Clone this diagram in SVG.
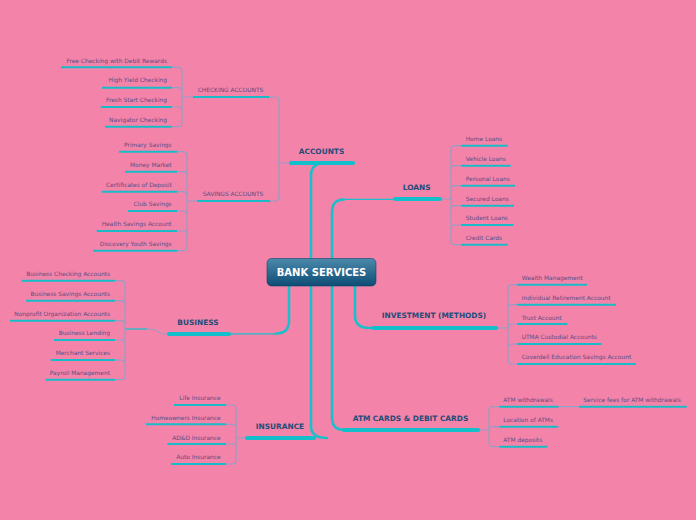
<svg xmlns="http://www.w3.org/2000/svg" width="696" height="520" viewBox="0 0 696 520">
<defs>
<linearGradient id="cg" x1="0" y1="0" x2="0" y2="1">
<stop offset="0" stop-color="#4c8aab"/>
<stop offset="1" stop-color="#0d4c75"/>
</linearGradient>
<style>
.bk{fill:none;stroke:#909fc6;stroke-width:1.2}
.mc{fill:none;stroke:#1bbfcb;stroke-width:2.6;stroke-linecap:round}
.mt{fill:none;stroke:#1bbfcb;stroke-width:1.3}
.u1{stroke:#12bfcb;stroke-width:4.2;stroke-linecap:round}
.u2{stroke:#16bdc9;stroke-width:2}
.t1{font-family:"DejaVu Sans",Verdana,sans-serif;font-weight:bold;font-size:7.4px;fill:#1e4d78;text-anchor:middle}
.t2{font-family:"DejaVu Sans",Verdana,sans-serif;font-size:5.9px;fill:#594e84}
.e{text-anchor:end}
.m{text-anchor:middle}
</style>
</defs>
<rect width="696" height="520" fill="#f483a9"/>
<g id="connectors">
<path class="bk" d="M172,67.3 H178 Q182,67.3 182,71.3 V122.7 Q182,126.7 178,126.7 H172 M172,87.7 H178 Q182,87.7 182,91.7 M172,107 H178 Q182,107 182,111 M182,97 H193"/>
<path class="bk" d="M269,97 H275 Q279,97 279,101 V197 Q279,201 275,201 H270 M279,163 H289"/>
<path class="bk" d="M177,151.7 H183 Q187,151.7 187,155.7 V246.7 Q187,250.7 183,250.7 H177 M177,171.7 H183 Q187,171.7 187,175.7 M177,191.7 H183 Q187,191.7 187,195.7 M177,211 H183 Q187,211 187,215 M177,231 H183 Q187,231 187,235 M187,201 H197"/>
<path class="bk" d="M115,280.7 H121 Q125,280.7 125,284.7 V375.7 Q125,379.7 121,379.7 H115 M115,300.7 H121 Q125,300.7 125,304.7 M115,320.7 H121 Q125,320.7 125,324.7 M115,340 H121 Q125,340 125,344 M115,360 H121 Q125,360 125,364 M147,329 Q156,329 158,331.5 Q160,334 167,334"/>
<path class="mt" d="M126,329 H147"/>
<path class="bk" d="M226,405 H232 Q236,405 236,409 V460 Q236,464 232,464 H226 M226,424.3 H232 Q236,424.3 236,428.3 M226,444 H232 Q236,444 236,448 M236,438 H245"/>
<path class="bk" d="M461,145.7 H455 Q451,145.7 451,149.7 V240.7 Q451,244.7 455,244.7 H461 M461,165.7 H455 Q451,165.7 451,169.7 M461,185.7 H455 Q451,185.7 451,189.7 M461,205.7 H455 Q451,205.7 451,209.7 M461,225 H455 Q451,225 451,229 M442,199 H451"/>
<path class="bk" d="M517,284.7 H512 Q508,284.7 508,288.7 V360 Q508,364 512,364 H517 M517,304.7 H512 Q508,304.7 508,308.7 M517,324 H512 Q508,324 508,328 M517,344 H512 Q508,344 508,348 M497,328 H508"/>
<path class="bk" d="M499,406.7 H493 Q489,406.7 489,410.7 V442.7 Q489,446.7 493,446.7 H499 M499,426.7 H493 Q489,426.7 489,430.7 M479,430 H489 M558,406.7 H579"/>
<path class="mc" d="M311,262 V176 Q311,163 324,163"/>
<path class="mc" d="M311,282 V426 Q311,438 327,438"/>
<path class="mc" d="M332,262 V212 Q332,199.5 344,199.5"/>
<path class="mt" d="M344,199.3 H393"/>
<path class="mc" d="M332,282 V418 Q332,430 345,430"/>
<path class="mc" d="M355,282 V316 Q355,328 370,328"/>
<path class="mc" d="M289,282 V321 Q289,333.5 276,333.5"/>
<path class="mt" d="M276,333.8 H231"/>
</g>
<g id="center">
<rect x="267" y="258.5" width="109" height="27.5" rx="4.5" fill="url(#cg)" stroke="#0b4468" stroke-width="0.6"/>
<text x="321.5" y="276" font-family="DejaVu Sans, Verdana, sans-serif" font-weight="bold" font-size="10px" fill="#ffffff" text-anchor="middle">BANK SERVICES</text>
</g>
<g id="accounts">
<line class="u1" x1="291" y1="163" x2="353" y2="163"/>
<text class="t1" x="321.5" y="153.7">ACCOUNTS</text>
</g>
<g id="checking-accounts">
<line class="u2" x1="193" y1="97" x2="269" y2="97"/>
<text class="t2 m" x="230.5" y="92">CHECKING ACCOUNTS</text>
</g>
<g id="checking-children">
<line class="u2" x1="61" y1="67.3" x2="172" y2="67.3"/><text class="t2 e" x="167" y="63">Free Checking with Debit Rewards</text>
<line class="u2" x1="102" y1="87.7" x2="172" y2="87.7"/><text class="t2 e" x="167" y="82">High Yield Checking</text>
<line class="u2" x1="100.7" y1="107" x2="172" y2="107"/><text class="t2 e" x="167" y="102">Fresh Start Checking</text>
<line class="u2" x1="105" y1="126.7" x2="172" y2="126.7"/><text class="t2 e" x="167" y="122">Navigator Checking</text>
</g>
<g id="savings-accounts">
<line class="u2" x1="197" y1="201" x2="270" y2="201"/>
<text class="t2 m" x="233" y="196">SAVINGS ACCOUNTS</text>
</g>
<g id="savings-children">
<line class="u2" x1="119" y1="151.7" x2="177" y2="151.7"/><text class="t2 e" x="171.7" y="147">Primary Savings</text>
<line class="u2" x1="125" y1="171.7" x2="177" y2="171.7"/><text class="t2 e" x="171.7" y="167">Money Market</text>
<line class="u2" x1="101.7" y1="191.7" x2="177" y2="191.7"/><text class="t2 e" x="171.7" y="187">Certificates of Deposit</text>
<line class="u2" x1="128" y1="211" x2="177" y2="211"/><text class="t2 e" x="171.7" y="206">Club Savings</text>
<line class="u2" x1="96.7" y1="231" x2="177" y2="231"/><text class="t2 e" x="171.7" y="226">Health Savings Account</text>
<line class="u2" x1="93" y1="250.7" x2="177" y2="250.7"/><text class="t2 e" x="171.7" y="246">Discovery Youth Savings</text>
</g>
<g id="business">
<line class="u1" x1="169" y1="334" x2="229" y2="334"/>
<text class="t1" x="198" y="324.7">BUSINESS</text>
</g>
<g id="business-children">
<line class="u2" x1="21.7" y1="280.7" x2="115" y2="280.7"/><text class="t2 e" x="110" y="276">Business Checking Accounts</text>
<line class="u2" x1="26" y1="300.7" x2="115" y2="300.7"/><text class="t2 e" x="110" y="296">Business Savings Accounts</text>
<line class="u2" x1="10" y1="320.7" x2="115" y2="320.7"/><text class="t2 e" x="110" y="316">Nonprofit Organization Accounts</text>
<line class="u2" x1="54" y1="340" x2="115" y2="340"/><text class="t2 e" x="110" y="335.3">Business Lending</text>
<line class="u2" x1="50.7" y1="360" x2="115" y2="360"/><text class="t2 e" x="110" y="355.3">Merchant Services</text>
<line class="u2" x1="45.7" y1="379.7" x2="115" y2="379.7"/><text class="t2 e" x="110" y="375">Payroll Management</text>
</g>
<g id="insurance">
<line class="u1" x1="247" y1="438" x2="314" y2="438"/>
<text class="t1" x="280" y="428.7">INSURANCE</text>
</g>
<g id="insurance-children">
<line class="u2" x1="174" y1="405" x2="226" y2="405"/><text class="t2 e" x="220.7" y="399.7">Life Insurance</text>
<line class="u2" x1="146" y1="424.3" x2="226" y2="424.3"/><text class="t2 e" x="220.7" y="419.7">Homeowners Insurance</text>
<line class="u2" x1="167.3" y1="444" x2="226" y2="444"/><text class="t2 e" x="220.7" y="439.7">AD&amp;D Insurance</text>
<line class="u2" x1="171" y1="464" x2="226" y2="464"/><text class="t2 e" x="220.7" y="459">Auto Insurance</text>
</g>
<g id="loans">
<line class="u1" x1="395" y1="199" x2="440" y2="199"/>
<text class="t1" x="416.7" y="190">LOANS</text>
</g>
<g id="loans-children">
<line class="u2" x1="461" y1="145.7" x2="507.7" y2="145.7"/><text class="t2" x="465.7" y="141">Home Loans</text>
<line class="u2" x1="461" y1="165.7" x2="510.7" y2="165.7"/><text class="t2" x="465.7" y="161">Vehicle Loans</text>
<line class="u2" x1="461" y1="185.7" x2="515" y2="185.7"/><text class="t2" x="465.7" y="181">Personal Loans</text>
<line class="u2" x1="461" y1="205.7" x2="514" y2="205.7"/><text class="t2" x="465.7" y="201">Secured Loans</text>
<line class="u2" x1="461" y1="225" x2="513.3" y2="225"/><text class="t2" x="465.7" y="220.3">Student Loans</text>
<line class="u2" x1="461" y1="244.7" x2="507.7" y2="244.7"/><text class="t2" x="465.7" y="240">Credit Cards</text>
</g>
<g id="investment">
<line class="u1" x1="373" y1="328" x2="496" y2="328"/>
<text class="t1" x="434" y="318">INVESTMENT (METHODS)</text>
</g>
<g id="investment-children">
<line class="u2" x1="517" y1="284.7" x2="587" y2="284.7"/><text class="t2" x="521.7" y="279.7">Wealth Management</text>
<line class="u2" x1="517" y1="304.7" x2="616" y2="304.7"/><text class="t2" x="521.7" y="299.7">Individual Retirement Account</text>
<line class="u2" x1="517" y1="324" x2="567.3" y2="324"/><text class="t2" x="521.7" y="319.7">Trust Account</text>
<line class="u2" x1="517" y1="344" x2="601.7" y2="344"/><text class="t2" x="521.7" y="338.7">UTMA Custodial Accounts</text>
<line class="u2" x1="517" y1="364" x2="636" y2="364"/><text class="t2" x="521.7" y="358.7">Coverdell Education Savings Account</text>
</g>
<g id="atm">
<line class="u1" x1="344" y1="430" x2="478" y2="430"/>
<text class="t1" x="410.5" y="421">ATM CARDS &amp; DEBIT CARDS</text>
</g>
<g id="atm-children">
<line class="u2" x1="499.3" y1="406.7" x2="558.3" y2="406.7"/><text class="t2" x="503.3" y="402">ATM withdrawals</text>
<line class="u2" x1="499.3" y1="426.7" x2="558.3" y2="426.7"/><text class="t2" x="503.3" y="422">Location of ATMs</text>
<line class="u2" x1="499.3" y1="446.7" x2="547.3" y2="446.7"/><text class="t2" x="503.3" y="442">ATM deposits</text>
</g>
<g id="service-fees">
<line class="u2" x1="579" y1="406.7" x2="686.7" y2="406.7"/><text class="t2" x="583.3" y="402">Service fees for ATM withdrawals</text>
</g>
</svg>
